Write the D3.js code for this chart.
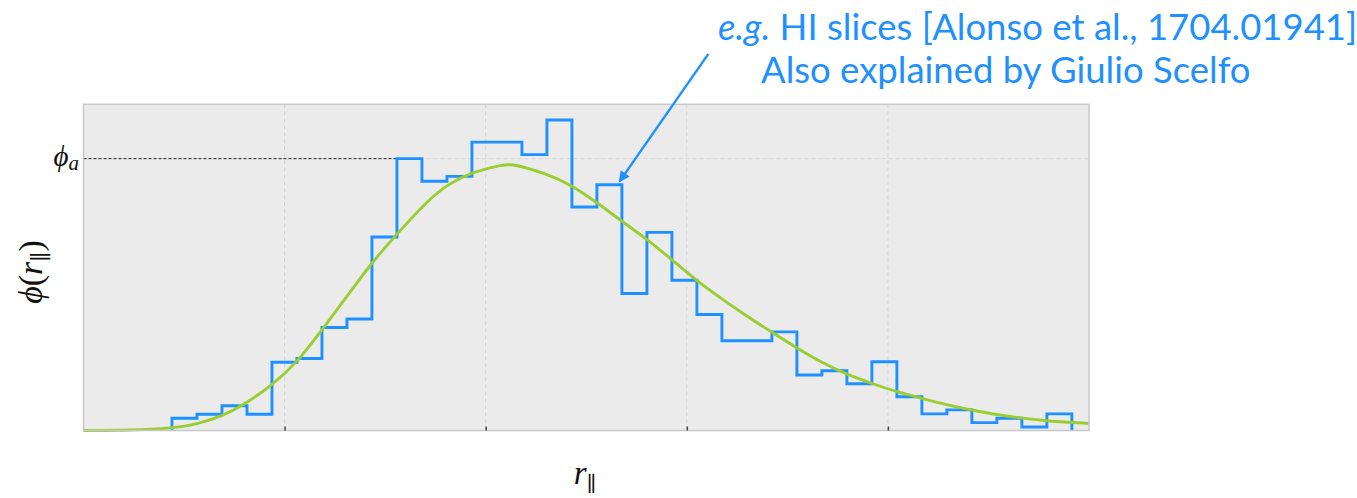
<!DOCTYPE html>
<html>
<head>
<meta charset="utf-8">
<script src="https://cdn.jsdelivr.net/npm/d3@7"></script>
<style>
  html, body { margin: 0; padding: 0; background: #ffffff; }
  svg { display: block; }
</style>
</head>
<body>
<svg id="chart" width="1357" height="498"></svg>
<script>
// Histogram of the radial selection: bin layout and bin heights (phi_a = 1)
const binStart = 0.44;
const binWidth = 0.1243;
const binHeights = [
  0.045, 0.060, 0.091, 0.060, 0.251, 0.265, 0.379, 0.410, 0.712, 1.000,
  0.917, 0.935, 1.061, 1.061, 1.015, 1.142, 0.822, 0.904, 0.504, 0.729,
  0.553, 0.427, 0.330, 0.330, 0.363, 0.204, 0.220, 0.172, 0.253, 0.124,
  0.061, 0.076, 0.029, 0.045, 0.013, 0.061
];

// Smooth model curve through the histogram
const curveX = [0, 0.23, 0.44, 0.57, 0.69, 0.79, 0.94, 1.065, 1.19, 1.315, 1.436, 1.56,
  1.72, 1.81, 1.93, 2.09, 2.14, 2.30, 2.43, 2.56, 2.67, 2.80, 2.93, 3.045, 3.17,
  3.30, 3.42, 3.55, 3.67, 3.79, 3.92, 4.04, 4.17, 4.29, 4.42, 4.54, 4.67, 4.79, 5.0];
const curveY = [0, 0.001, 0.008, 0.024, 0.053, 0.091, 0.167, 0.253, 0.375, 0.498, 0.620, 0.724,
  0.852, 0.905, 0.950, 0.979, 0.980, 0.945, 0.902, 0.835, 0.773, 0.705, 0.626, 0.553, 0.486,
  0.420, 0.363, 0.302, 0.250, 0.208, 0.173, 0.143, 0.118, 0.095, 0.075, 0.058, 0.045, 0.035, 0.026];

// Axis ticks
const xTicks = [1, 2, 3, 4];
const phiA = 1;
const yTicks = [phiA];

const svg = d3.select("#chart");
const plotLeft = 83.5, plotRight = 1089, plotTop = 104.3, plotBottom = 430.5;

const x = d3.scaleLinear().domain([0, 5]).range([plotLeft, plotRight]);
const y = d3.scaleLinear().domain([0, 1.2]).range([plotBottom, plotTop]);

const blue = "#1e90ff";
const green = "#9acd32";

// Plot background
svg.append("rect")
  .attr("x", plotLeft).attr("y", plotTop)
  .attr("width", plotRight - plotLeft).attr("height", plotBottom - plotTop)
  .attr("fill", "#ebebeb");

// Dashed grid
const grid = svg.append("g").attr("stroke", "#d6d6d6").attr("stroke-width", 1)
  .attr("stroke-dasharray", "4,3");
grid.selectAll("line.v").data(xTicks).join("line")
  .attr("x1", d => x(d)).attr("x2", d => x(d))
  .attr("y1", plotTop).attr("y2", plotBottom);
grid.selectAll("line.h").data(yTicks).join("line")
  .attr("x1", plotLeft).attr("x2", plotRight)
  .attr("y1", d => y(d)).attr("y2", d => y(d));

// Black dashed guide at phi_a, out to the bin that reaches it
const guideEnd = binStart + binWidth * (binHeights.indexOf(phiA) + 1);
svg.append("line")
  .attr("x1", plotLeft).attr("x2", x(guideEnd))
  .attr("y1", y(phiA)).attr("y2", y(phiA))
  .attr("stroke", "#222").attr("stroke-width", 1)
  .attr("stroke-dasharray", "3,2");

// Step histogram
const stepPts = [[binStart, 0]];
binHeights.forEach((h, i) => {
  stepPts.push([binStart + i * binWidth, h]);
  stepPts.push([binStart + (i + 1) * binWidth, h]);
});
stepPts.push([binStart + binHeights.length * binWidth, 0]);
svg.append("path")
  .attr("d", d3.line().x(d => x(d[0])).y(d => y(d[1]))(stepPts))
  .attr("fill", "none").attr("stroke", blue).attr("stroke-width", 2.9)
  .attr("stroke-linejoin", "miter");

// Model curve
svg.append("path")
  .attr("d", d3.line().curve(d3.curveBasis)
    .x((d, i) => x(curveX[i])).y(d => y(d))(curveY))
  .attr("fill", "none").attr("stroke", green).attr("stroke-width", 2.9);

// Frame
svg.append("rect")
  .attr("x", plotLeft).attr("y", plotTop)
  .attr("width", plotRight - plotLeft).attr("height", plotBottom - plotTop)
  .attr("fill", "none").attr("stroke", "#c8c8c8").attr("stroke-width", 1.5);

// Small inward ticks on the x axis
const xAxis = d3.axisBottom(x).tickValues(xTicks).tickSize(-4).tickFormat("");
const gx = svg.append("g").attr("transform", `translate(0,${plotBottom})`).call(xAxis);
gx.select(".domain").remove();
gx.selectAll(".tick line").attr("stroke", "#444").attr("stroke-width", 1.5);

// Axis labels
const serif = "'Liberation Serif', 'DejaVu Serif', serif";
const phiLabel = svg.append("text")
  .attr("x", 79).attr("y", y(phiA) + 7)
  .attr("text-anchor", "end")
  .attr("font-family", serif).attr("font-style", "italic").attr("font-size", 29)
  .attr("fill", "#111");
phiLabel.append("tspan").text("ϕ");
phiLabel.append("tspan").attr("font-size", 21).attr("dy", 4).text("a");

const yLabel = svg.append("text")
  .attr("transform", "translate(42,272) rotate(-90)")
  .attr("text-anchor", "middle")
  .attr("font-family", serif).attr("font-size", 34).attr("fill", "#111");
yLabel.append("tspan").attr("font-style", "italic").text("ϕ");
yLabel.append("tspan").text("(");
yLabel.append("tspan").attr("font-style", "italic").text("r");
yLabel.append("tspan").attr("font-size", 22).attr("dy", 6).text("∥");
yLabel.append("tspan").attr("dy", -6).text(")");

const xLabel = svg.append("text")
  .attr("x", 585).attr("y", 484)
  .attr("text-anchor", "middle")
  .attr("font-family", serif).attr("font-size", 33).attr("fill", "#111");
xLabel.append("tspan").attr("font-style", "italic").text("r");
xLabel.append("tspan").attr("font-size", 21).attr("dy", 7).text("∥");

// Annotation
const defs = svg.append("defs");
defs.append("marker")
  .attr("id", "arrowhead").attr("viewBox", "0 0 10 10")
  .attr("refX", 9).attr("refY", 5)
  .attr("markerWidth", 6).attr("markerHeight", 5)
  .attr("markerUnits", "strokeWidth")
  .attr("orient", "auto")
  .append("path").attr("d", "M0,0 L10,5 L0,10 z").attr("fill", blue);

svg.append("line")
  .attr("x1", 708.3).attr("y1", 54)
  .attr("x2", 619.5).attr("y2", 181.5)
  .attr("stroke", blue).attr("stroke-width", 2.2)
  .attr("marker-end", "url(#arrowhead)");

const sans = "Lato, 'Open Sans', sans-serif";
const note1 = svg.append("text")
  .attr("x", 718).attr("y", 40)
  .attr("font-family", sans).attr("font-size", 36.5).attr("fill", blue);
note1.append("tspan").attr("font-style", "italic").text("e.g.");
note1.append("tspan").text(" HI slices [Alonso et al., 1704.01941]");

svg.append("text")
  .attr("x", 761).attr("y", 83)
  .attr("font-family", sans).attr("font-size", 36.5).attr("fill", blue)
  .text("Also explained by Giulio Scelfo");
</script>
</body>
</html>
